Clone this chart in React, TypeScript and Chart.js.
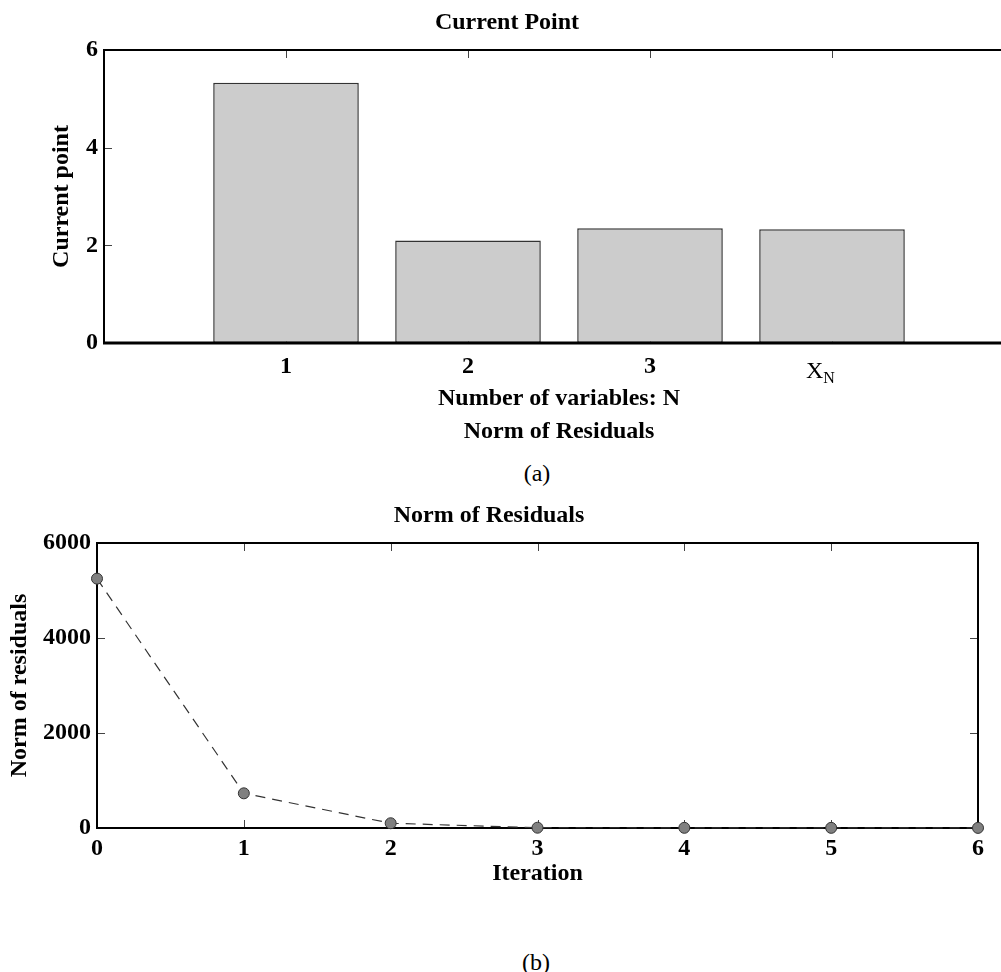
import { useEffect, useRef } from "react";
import { Chart, registerables } from "chart.js";

Chart.register(...registerables);

// ---- Data ----
const barCategories = ["", "1", "2", "3", "X_N", ""];
const currentPointValues = [null, 5.33, 2.1, 2.35, 2.33, null];
const barYMin = 0;
const barYMax = 6;
const barYStep = 2;

const iterations = ["0", "1", "2", "3", "4", "5", "6"];
const residualNorms = [5250, 730, 100, 6, 4, 3, 2];
const resYMin = 0;
const resYMax = 6000;
const resYStep = 2000;

const SERIF = "'Liberation Serif', 'Times New Roman', Times, serif";

function drawBox(chart: any, opts: any) {
  const { ctx, chartArea: a } = chart;
  ctx.save();
  ctx.strokeStyle = "#000";
  ctx.lineWidth = opts.boxWidth;
  ctx.beginPath();
  ctx.moveTo(a.left, a.bottom);
  ctx.lineTo(a.left, a.top);
  ctx.lineTo(a.right, a.top);
  ctx.lineTo(a.right, a.bottom);
  ctx.stroke();
  ctx.lineWidth = opts.bottomWidth;
  ctx.beginPath();
  ctx.moveTo(a.left - opts.boxWidth / 2, a.bottom);
  ctx.lineTo(a.right + opts.boxWidth / 2, a.bottom);
  ctx.stroke();
  ctx.restore();
}

const framePlugin = {
  id: "frame",
  beforeDatasetsDraw(chart: any, _args: any, opts: any) {
    const { ctx, chartArea: a, scales } = chart;
    const xs = scales.x;
    const ys = scales.y;
    ctx.save();
    ctx.strokeStyle = opts.tickColor;
    ctx.lineWidth = 1;
    ctx.beginPath();
    xs.ticks.forEach((_t: any, i: number) => {
      const px = Math.round(xs.getPixelForTick(i)) + 0.5;
      ctx.moveTo(px, a.top);
      ctx.lineTo(px, a.top + opts.tickLen);
      ctx.moveTo(px, a.bottom);
      ctx.lineTo(px, a.bottom - opts.tickLen);
    });
    ys.ticks.forEach((t: any) => {
      const py = Math.round(ys.getPixelForValue(t.value)) + 0.5;
      ctx.moveTo(a.left, py);
      ctx.lineTo(a.left + opts.tickLen, py);
      ctx.moveTo(a.right, py);
      ctx.lineTo(a.right - opts.tickLen, py);
    });
    ctx.stroke();
    ctx.restore();
    if (!opts.boxOnTop) drawBox(chart, opts);
  },
  afterDatasetsDraw(chart: any, _args: any, opts: any) {
    if (opts.boxOnTop) drawBox(chart, opts);
    if (opts.subscriptLabel) {
      const { ctx, chartArea: a, scales } = chart;
      const idx = (chart.data.labels as string[]).indexOf(opts.subscriptLabel);
      if (idx >= 0) {
        const [base, sub] = opts.subscriptLabel.split("_");
        const px = scales.x.getPixelForTick(idx);
        ctx.save();
        ctx.fillStyle = "#000";
        ctx.textBaseline = "alphabetic";
        ctx.textAlign = "left";
        ctx.font = `24px ${SERIF}`;
        const x0 = px - 26;
        ctx.fillText(base, x0, a.bottom + 35);
        const w = ctx.measureText(base).width;
        ctx.font = `16px ${SERIF}`;
        ctx.fillText(sub, x0 + w, a.bottom + 40);
        ctx.restore();
      }
    }
  },
};

const tickFont = { family: SERIF, size: 24, weight: "bold" as const, lineHeight: 1.2 };

export default function App() {
  const topRef = useRef<HTMLCanvasElement | null>(null);
  const botRef = useRef<HTMLCanvasElement | null>(null);

  useEffect(() => {
    const top = new Chart(topRef.current as HTMLCanvasElement, {
      type: "bar",
      data: {
        labels: barCategories,
        datasets: [
          {
            data: currentPointValues as any,
            backgroundColor: "#cccccc",
            borderColor: "#333333",
            borderWidth: 1.5,
            borderSkipped: false,
            categoryPercentage: 1,
            barPercentage: 0.8,
          },
        ],
      },
      options: {
        responsive: false,
        animation: false,
        layout: { padding: { left: 0, right: 46, top: 0, bottom: 0 } },
        plugins: {
          legend: { display: false },
          tooltip: { enabled: false },
          title: {
            display: true,
            text: "Current Point",
            color: "#000",
            font: { family: SERIF, size: 24, weight: "bold", lineHeight: 1.2 },
            padding: { top: 8, bottom: 13.2 },
          },
          frame: { tickColor: "#444", tickLen: 8, boxWidth: 2, bottomWidth: 3, boxOnTop: true, subscriptLabel: "X_N" },
        } as any,
        scales: {
          x: {
            type: "category",
            offset: false,
            grid: { display: false, drawTicks: false },
            border: { display: false },
            ticks: {
              color: "#000",
              font: tickFont,
              padding: 9,
              autoSkip: false,
              maxRotation: 0,
              callback: (_v: any, i: number) => (barCategories[i] === "X_N" ? "" : barCategories[i]),
            },
            title: {
              display: true,
              text: ["Number of variables: N", "Norm of Residuals"],
              color: "#000",
              font: { family: SERIF, size: 24, weight: "bold", lineHeight: 1.375 },
              padding: { top: 0, bottom: 4.5 },
            },
            afterFit: (s: any) => {
              s.height = 110;
            },
          },
          y: {
            min: barYMin,
            max: barYMax,
            grid: { display: false, drawTicks: false },
            border: { display: false },
            ticks: { stepSize: barYStep, color: "#000", font: tickFont, padding: 6 },
            title: {
              display: true,
              text: "Current point",
              color: "#000",
              font: { family: SERIF, size: 24, weight: "bold", lineHeight: 1.2 },
              padding: { top: 47.6, bottom: 0 },
            },
            afterFit: (s: any) => {
              s.width = 104;
            },
          },
        },
      } as any,
      plugins: [framePlugin as any],
    });

    const bot = new Chart(botRef.current as HTMLCanvasElement, {
      type: "line",
      data: {
        labels: iterations,
        datasets: [
          {
            data: residualNorms,
            borderColor: "#333333",
            borderWidth: 1.2,
            borderDash: [10, 7],
            pointRadius: 5.5,
            pointBackgroundColor: "#808080",
            pointBorderColor: "#333333",
            pointBorderWidth: 1,
            tension: 0,
            fill: false,
            clip: false as any,
          },
        ],
      },
      options: {
        responsive: false,
        animation: false,
        layout: { padding: { left: 0, right: 23, top: 0, bottom: 0 } },
        plugins: {
          legend: { display: false },
          tooltip: { enabled: false },
          title: {
            display: true,
            text: "Norm of Residuals",
            color: "#000",
            font: { family: SERIF, size: 24, weight: "bold", lineHeight: 1.2 },
            padding: { top: 11.6, bottom: 12.6 },
          },
          frame: { tickColor: "#444", tickLen: 8, boxWidth: 2, bottomWidth: 2, boxOnTop: false },
        } as any,
        scales: {
          x: {
            type: "category",
            offset: false,
            grid: { display: false, drawTicks: false },
            border: { display: false },
            ticks: { color: "#000", font: tickFont, padding: 6, autoSkip: false, maxRotation: 0 },
            title: {
              display: true,
              text: "Iteration",
              color: "#000",
              font: { family: SERIF, size: 24, weight: "bold", lineHeight: 1.2 },
              padding: { top: 0, bottom: 19.6 },
            },
            afterFit: (s: any) => {
              s.height = 80;
            },
          },
          y: {
            min: resYMin,
            max: resYMax,
            grid: { display: false, drawTicks: false },
            border: { display: false },
            ticks: {
              stepSize: resYStep,
              color: "#000",
              font: tickFont,
              padding: 6,
              callback: (v: any) => String(v),
            },
            title: {
              display: true,
              text: "Norm of residuals",
              color: "#000",
              font: { family: SERIF, size: 24, weight: "bold", lineHeight: 1.2 },
              padding: { top: 5.6, bottom: 0 },
            },
            afterFit: (s: any) => {
              s.width = 97;
            },
          },
        },
      } as any,
      plugins: [framePlugin as any],
    });

    return () => {
      top.destroy();
      bot.destroy();
    };
  }, []);

  const caption: React.CSSProperties = {
    position: "absolute",
    width: 200,
    textAlign: "center",
    fontFamily: SERIF,
    fontSize: 24,
    lineHeight: "28px",
    color: "#000",
  };

  return (
    <div
      style={{
        position: "absolute",
        left: 0,
        top: 0,
        width: 1001,
        height: 972,
        overflow: "hidden",
        background: "#fff",
      }}
    >
      <canvas ref={topRef} width={1060} height={453} style={{ position: "absolute", left: 0, top: 0 }} />
      <div style={{ ...caption, left: 437, top: 459 }}>(a)</div>
      <canvas ref={botRef} width={1001} height={418} style={{ position: "absolute", left: 0, top: 490 }} />
      <div style={{ ...caption, left: 436, top: 948 }}>(b)</div>
    </div>
  );
}
